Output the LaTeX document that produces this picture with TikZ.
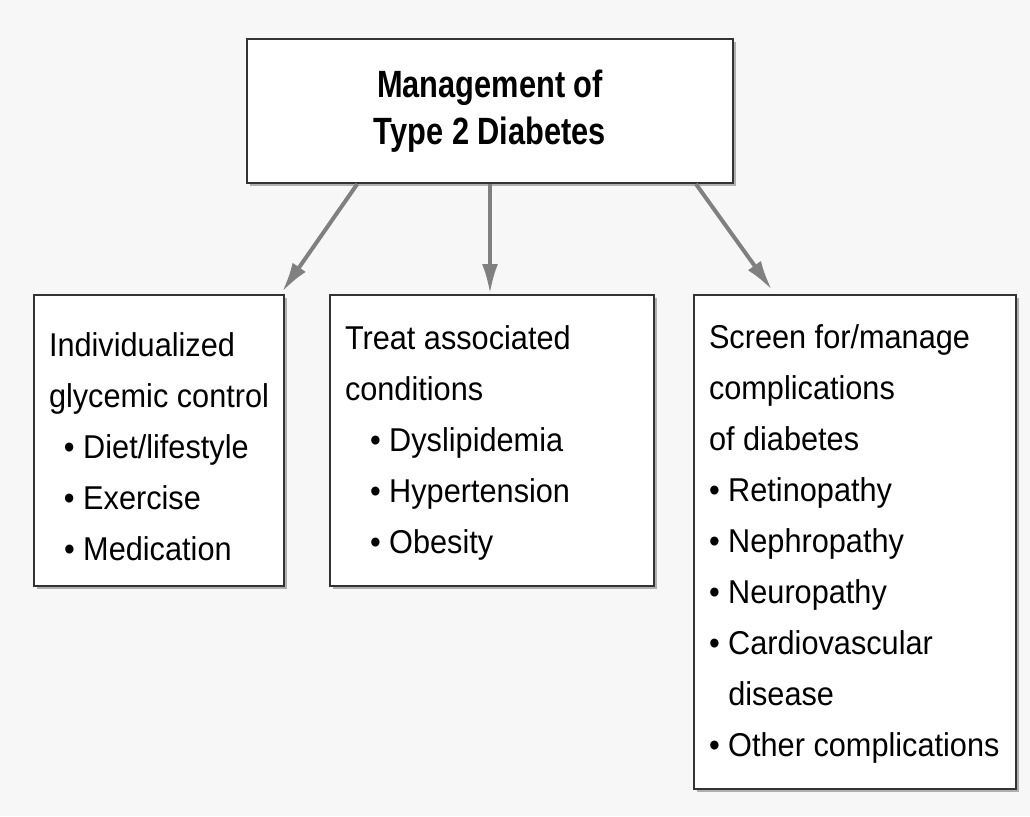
\documentclass[tikz,border=0pt]{standalone}
\usepackage{fontspec}
\setmainfont{Liberation Sans}[FakeStretch=0.93]
\newfontfamily\headfont{Liberation Sans}[FakeStretch=0.81]
\usetikzlibrary{positioning,calc,arrows.meta,shadows}
% #1 height, #2 width, #3 first line height, #4 lines
\newcommand\boxtext[4]{\parbox[t][#1][t]{#2}{\raggedright\leftskip=7.5pt
  \rule{0pt}{#3}#4}}
\tikzset{
	bodytext/.style = {font=\fontsize{16.5pt}{25.5pt}\selectfont},
	box/.style = {draw=black!80, line width=1pt, fill=white, inner sep=0pt,
		anchor=north west, bodytext,
		drop shadow={shadow xshift=1.5pt, shadow yshift=-1.5pt,
			fill=black!50, opacity=0.6}},
	headbox/.style = {draw=black!80, line width=1pt, fill=white,
		minimum width=243pt, minimum height=72pt, align=center,
		font=\headfont\bfseries\fontsize{19pt}{23.5pt}\selectfont,
		drop shadow={shadow xshift=1.5pt, shadow yshift=-1.5pt,
			fill=black!50, opacity=0.6}},
	link/.style = {draw=black!50, line width=2pt,
		-{Latex[length=15pt, width=8pt]}},
}
\begin{document}
\begin{tikzpicture}[x=0.5pt, y=-0.5pt]
	\fill[black!3] (0,0) rectangle (1030,816);
	\node[headbox] (mgmt) at (490,111) {Management of\\Type 2 Diabetes};
	\node[box] (glyc) at (33,294) {\boxtext{145.5pt}{125pt}{30.5pt}{%
		Individualized\\glycemic control\\
		\hspace*{7.5pt}\textbullet\ Diet/lifestyle\\
		\hspace*{7.5pt}\textbullet\ Exercise\\
		\hspace*{7.5pt}\textbullet\ Medication}};
	\node[box] (assoc) at (329,294) {\boxtext{145.5pt}{162pt}{27pt}{%
		Treat associated\\conditions\\
		\hspace*{12.5pt}\textbullet\ Dyslipidemia\\
		\hspace*{12.5pt}\textbullet\ Hypertension\\
		\hspace*{12.5pt}\textbullet\ Obesity}};
	\node[box] (scrn) at (693,294) {\boxtext{247pt}{161pt}{26.5pt}{%
		Screen for/manage\\complications\\of diabetes\\
		\textbullet\ Retinopathy\\
		\textbullet\ Nephropathy\\
		\textbullet\ Neuropathy\\
		\textbullet\ Cardiovascular\\
		\phantom{\textbullet\ }disease\\
		\textbullet\ Other complications}};
	% arrows from the top box
	\draw[link] ($(mgmt.south west)!0.228!(mgmt.south east)$) -- ($(glyc.north east)+(-3,-2)$);
	\draw[link] (mgmt.south) -- (mgmt.south |- assoc.north);
	\draw[link] ($(mgmt.south west)!0.922!(mgmt.south east)$) -- ($(scrn.north west)+(79,-4)$);
\end{tikzpicture}
\end{document}
